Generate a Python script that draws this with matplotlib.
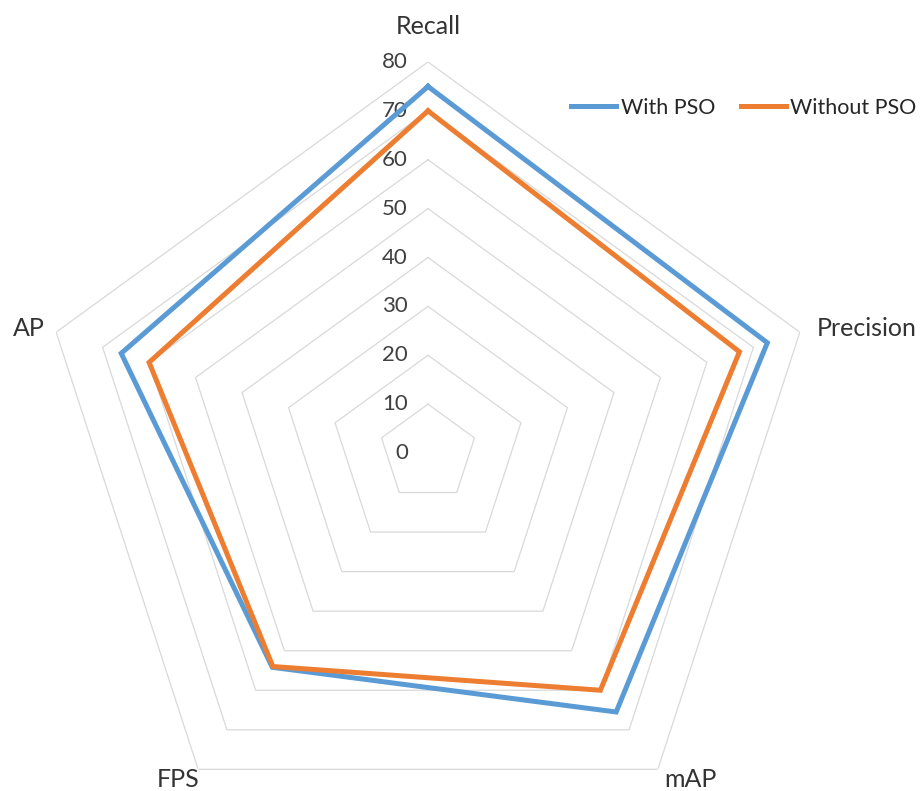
import matplotlib.pyplot as plt
import numpy as np

plt.rcParams['font.family'] = ['Lato', 'DejaVu Sans']

# data
categories = ['Recall', 'Precision', 'mAP', 'FPS', 'AP']
with_pso = [75, 73, 65.5, 54.2, 66]
without_pso = [70, 67, 60, 54, 60]
levels = [0, 10, 20, 30, 40, 50, 60, 70, 80]

BLUE = '#5B9BD5'
ORANGE = '#ED7D31'
GRID = '#D9D9D9'

W, H, DPI = 922, 791, 100
fig = plt.figure(figsize=(W / DPI, H / DPI), dpi=DPI)

# center and outer radius in pixels
cx, cy, R = 428, 791 - 453, 391
ax = fig.add_axes([(cx - R) / W, (cy - R) / H, 2 * R / W, 2 * R / H], projection='polar')
ax.set_theta_zero_location('N')
ax.set_theta_direction(-1)
ax.set_ylim(0, 80)
ax.spines['polar'].set_visible(False)
ax.grid(False)
ax.set_xticks([])
ax.set_yticks([])
ax.patch.set_visible(False)

n = len(categories)
theta = np.linspace(0, 2 * np.pi, n, endpoint=False)
theta_c = np.append(theta, theta[0])

# pentagon gridlines
for lv in levels[1:]:
    ax.plot(theta_c, [lv] * (n + 1), color=GRID, lw=0.9, zorder=1)

# radial labels
for lv in levels:
    ax.annotate(str(lv), xy=(0, lv), xytext=(-20, 0), textcoords='offset pixels',
                ha='right', va='center', fontsize=16, color='#404040',
                annotation_clip=False)

# series
ax.plot(theta_c, with_pso + with_pso[:1], color=BLUE, lw=3.6, label='With PSO',
        solid_joinstyle='miter', zorder=3)
ax.plot(theta_c, without_pso + without_pso[:1], color=ORANGE, lw=3.6, label='Without PSO',
        solid_joinstyle='miter', zorder=4)

# category labels
offsets = {
    'Recall': ((0, 36), 'center'),
    'Precision': ((17, 4), 'left'),
    'mAP': ((33, -10), 'center'),
    'FPS': ((-20, -10), 'center'),
    'AP': ((-11, 4), 'right'),
}
for t, cat in zip(theta, categories):
    off, ha = offsets[cat]
    ax.annotate(cat, xy=(t, 80), xytext=off, textcoords='offset pixels',
                ha=ha, va='center', fontsize=18, color='#333333',
                annotation_clip=False)

fig.legend(loc='center left', bbox_to_anchor=(571 / W, 1 - 108 / H), ncol=2,
           frameon=False, fontsize=15.5, handlelength=2.1, handletextpad=0.2,
           columnspacing=1.2, borderaxespad=0, borderpad=0,
           labelcolor='#262626')

fig.savefig('out.png', dpi=DPI)
